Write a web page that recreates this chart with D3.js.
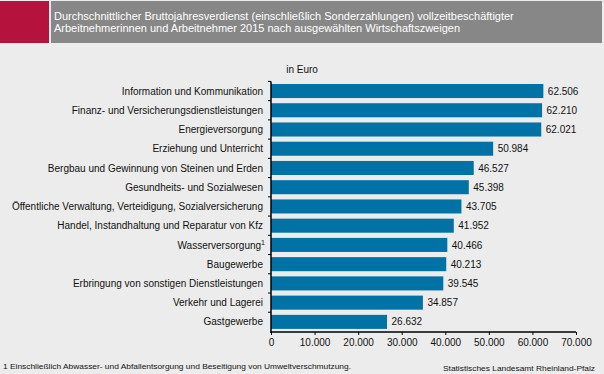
<!DOCTYPE html>
<html><head><meta charset="utf-8">
<script src="https://cdn.jsdelivr.net/npm/d3@7"></script>
<style>
html,body{margin:0;padding:0;background:#ececec;}
svg{display:block;font-family:"Liberation Sans",Arial,sans-serif;}
</style></head>
<body><svg id="c" width="604" height="374"></svg>
<script>
const titleLines = ["Durchschnittlicher Bruttojahresverdienst (einschließlich Sonderzahlungen) vollzeitbeschäftigter",
                    "Arbeitnehmerinnen und Arbeitnehmer 2015 nach ausgewählten Wirtschaftszweigen"];
const unitLabel = "in Euro";
const categories = ["Information und Kommunikation","Finanz- und Versicherungsdienstleistungen","Energieversorgung",
  "Erziehung und Unterricht","Bergbau und Gewinnung von Steinen und Erden","Gesundheits- und Sozialwesen",
  "Öffentliche Verwaltung, Verteidigung, Sozialversicherung","Handel, Instandhaltung und Reparatur von Kfz",
  "Wasserversorgung","Baugewerbe","Erbringung von sonstigen Dienstleistungen","Verkehr und Lagerei","Gastgewerbe"];
const values = [62506,62210,62021,50984,46527,45398,43705,41952,40466,40213,39545,34857,26632];
const footnoteMarks = ["","","","","","","","","1","","","",""];
const xTicks = [0,10000,20000,30000,40000,50000,60000,70000];
const footnote = "1 Einschließlich Abwasser- und Abfallentsorgung und Beseitigung von Umweltverschmutzung.";
const source = "Statistisches Landesamt Rheinland-Pfalz";

const loc = d3.formatLocale({decimal:",",thousands:".",grouping:[3],currency:["","€"]});
const fmt = loc.format(",d");

const svg = d3.select("#c");
svg.append("rect").attr("x",0).attr("y",0).attr("width",604).attr("height",374).attr("fill","#ececec");
// header
svg.append("rect").attr("x",0).attr("y",1).attr("width",49).attr("height",42).attr("fill","#b5123d");
svg.append("rect").attr("x",51).attr("y",1).attr("width",551).attr("height",42).attr("fill","#878787");
svg.selectAll("text.title").data(titleLines).join("text").attr("class","title")
  .attr("x",54).attr("y",(d,i)=>20+i*12).attr("fill","#fff").attr("font-size","11px").text(d=>d);
svg.append("text").attr("x",302).attr("y",73).attr("text-anchor","middle").attr("font-size","10px")
  .attr("fill","#111").text(unitLabel);

const x = d3.scaleLinear().domain([0,70000]).range([271,576]);
const y = d3.scaleBand().domain(categories).range([81.4,331.5]).paddingInner(0.27).paddingOuter(0.135);

svg.selectAll("rect.bar").data(values).join("rect").attr("class","bar")
  .attr("x",x(0)).attr("y",(d,i)=>y(categories[i]))
  .attr("width",d=>x(d)-x(0)).attr("height",y.bandwidth()).attr("fill","#0072a5");

svg.selectAll("text.val").data(values).join("text").attr("class","val")
  .attr("x",d=>x(d)+4.5).attr("y",(d,i)=>y(categories[i])+y.bandwidth()/2+3.6)
  .attr("font-size","10px").attr("fill","#111").text(d=>fmt(d));

const lab = svg.selectAll("text.cat").data(categories).join("text").attr("class","cat")
  .attr("x",(d,i)=>footnoteMarks[i]?265:263).attr("y",d=>y(d)+y.bandwidth()/2+3.6)
  .attr("text-anchor","end").attr("font-size","10px").attr("fill","#111");
lab.append("tspan").text(d=>d);
lab.filter((d,i)=>footnoteMarks[i]).append("tspan").attr("dy",-4).attr("font-size","7px")
  .text((d)=>footnoteMarks[categories.indexOf(d)]);

// y axis
const yAxis = d3.axisLeft(y).tickSize(0).tickFormat("");
const ga = svg.append("g").attr("transform","translate(271,0)").call(yAxis);
ga.select(".domain").remove();
svg.append("line").attr("x1",271).attr("x2",271).attr("y1",y.range()[0]).attr("y2",333).attr("stroke","#000").attr("stroke-width",1.5);
const bounds = categories.map(c=>y(c)-y.step()*y.paddingInner()/2);
svg.selectAll("line.yt").data(bounds).join("line").attr("class","yt")
  .attr("x1",268).attr("x2",271).attr("y1",d=>d).attr("y2",d=>d).attr("stroke","#000");

// x axis
const xAxis = d3.axisBottom(x).tickValues(xTicks).tickSize(3).tickPadding(4).tickFormat(d=>fmt(d));
const gx = svg.append("g").attr("transform","translate(0,332)").call(xAxis);
gx.select(".domain").attr("stroke","#000").attr("stroke-width",1.5).attr("d","M270.5,0H576");
gx.selectAll(".tick line").attr("stroke","#000");
gx.selectAll(".tick text").attr("font-size","10px").attr("fill","#111").attr("font-family","Liberation Sans,Arial,sans-serif");

svg.append("text").attr("x",3).attr("y",369).attr("font-size","8px").attr("fill","#111")
  .attr("textLength",348).attr("lengthAdjust","spacingAndGlyphs").text(footnote);
svg.append("text").attr("x",595).attr("y",371).attr("text-anchor","end").attr("font-size","8px").attr("fill","#111")
  .attr("textLength",152).attr("lengthAdjust","spacingAndGlyphs").text(source);
</script></body></html>
